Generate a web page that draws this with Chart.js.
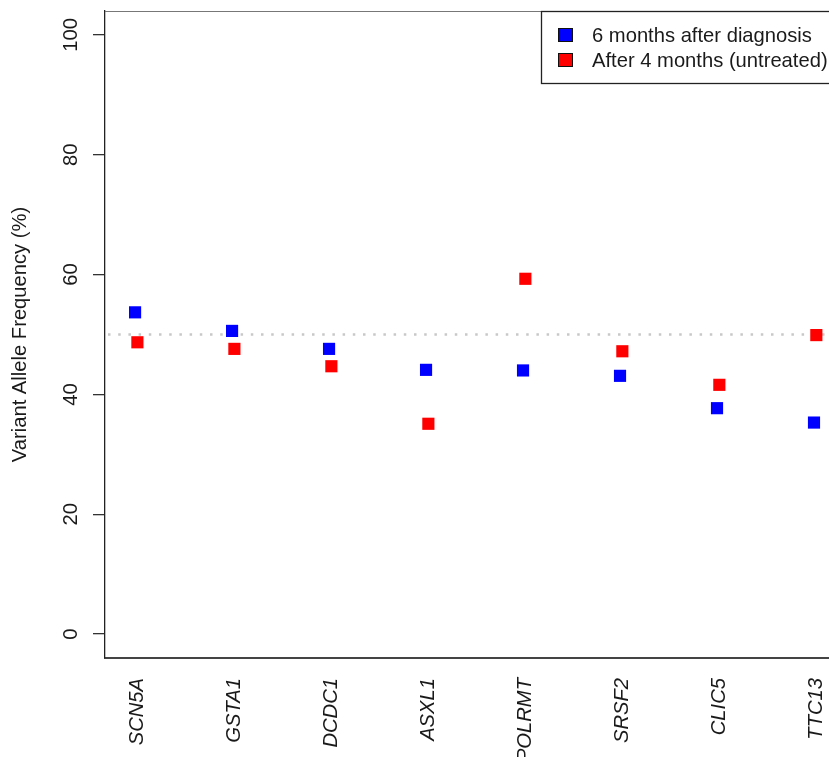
<!DOCTYPE html>
<html>
<head>
<meta charset="utf-8">
<title>Variant allele frequency</title>
<script src="https://cdn.jsdelivr.net/npm/chart.js@4"></script>
<style>
  html, body { margin: 0; padding: 0; background: #fff; overflow: hidden; }
  #wrap { width: 960px; height: 757px; }
</style>
</head>
<body>
<div id="wrap"><canvas id="vafchart" width="960" height="757"></canvas></div>
<script>
// genes along the x axis
const genes = ['SCN5A', 'GSTA1', 'DCDC1', 'ASXL1', 'POLRMT', 'SRSF2', 'CLIC5', 'TTC13'];

// VAF (%) per timepoint
const sixMonths = [53.7, 50.6, 47.6, 44.1, 44.0, 43.1, 37.7, 35.3];
const fourMonthsUntreated = [48.7, 47.6, 44.7, 35.1, 59.3, 47.2, 41.6, 49.9];

const seriesNames = ['6 months after diagnosis', 'After 4 months (untreated)'];
const seriesColors = ['#0000ff', '#ff0000'];

const yTicks = [0, 20, 40, 60, 80, 100];
const refLine = 50;
const redShift = 0.024;   // small nudge so the pairs don't overlap

const fontFam = '"Liberation Sans", Arial, Helvetica, sans-serif';
const fs = 20.2;

function pts(vals, shift) {
    const out = [];
    for (let i = 0; i < vals.length; i++) {
        out.push({ x: i + 1 + shift, y: vals[i] });
    }
    return out;
}

// dotted 50% line, drawn under the points
const refLinePlugin = {
    id: 'refLine',
    beforeDatasetsDraw(chart) {
        const ctx = chart.ctx, a = chart.chartArea;
        const y = chart.scales.y.getPixelForValue(refLine);
        ctx.save();
        ctx.strokeStyle = '#c8c8c8';
        ctx.lineWidth = 2.5;
        ctx.setLineDash([2.5, 7.7]);
        ctx.beginPath();
        ctx.moveTo(a.left + 3, y);
        ctx.lineTo(a.right, y);
        ctx.stroke();
        ctx.restore();
    }
};

// box top edge, rotated y labels, legend
const extrasPlugin = {
    id: 'extras',
    afterDraw(chart) {
        const ctx = chart.ctx, a = chart.chartArea;
        const ys = chart.scales.y;
        ctx.save();

        ctx.strokeStyle = '#777';
        ctx.lineWidth = 1;
        ctx.beginPath();
        ctx.moveTo(a.left, a.top + 0.5);
        ctx.lineTo(a.right, a.top + 0.5);
        ctx.stroke();

        ctx.fillStyle = '#1a1a1a';
        ctx.font = fs + 'px ' + fontFam;
        ctx.textAlign = 'center';
        ctx.textBaseline = 'middle';
        yTicks.forEach(v => {
            ctx.save();
            ctx.translate(71, ys.getPixelForValue(v));
            ctx.rotate(-Math.PI / 2);
            ctx.fillText(String(v), 0, 0);
            ctx.restore();
        });

        // legend
        const lx = 541, ly = a.top, lh = 72;
        ctx.fillStyle = '#fff';
        ctx.fillRect(lx, ly, a.right - lx, lh);
        ctx.strokeStyle = '#222';
        ctx.lineWidth = 1.3;
        ctx.strokeRect(lx + 0.5, ly + 0.5, a.right - lx, lh);
        ctx.textAlign = 'left';
        seriesNames.forEach((name, i) => {
            const cy = ly + 24 + i * 25;
            ctx.fillStyle = seriesColors[i];
            ctx.fillRect(558, cy - 7, 15, 14);
            ctx.strokeStyle = '#111';
            ctx.lineWidth = 1;
            ctx.strokeRect(558.5, cy - 6.5, 14, 13);
            ctx.fillStyle = '#1a1a1a';
            ctx.fillText(name, 592, cy + 1);
        });
        ctx.restore();
    }
};

new Chart(document.getElementById('vafchart'), {
    type: 'scatter',
    data: {
        datasets: [{
            label: seriesNames[0],
            data: pts(sixMonths, 0),
            backgroundColor: seriesColors[0],
            borderWidth: 0,
            pointStyle: 'rect',
            pointRadius: 8.6
        }, {
            label: seriesNames[1],
            data: pts(fourMonthsUntreated, redShift),
            backgroundColor: seriesColors[1],
            borderWidth: 0,
            pointStyle: 'rect',
            pointRadius: 8.6
        }]
    },
    options: {
        responsive: false,
        animation: false,
        layout: { padding: { top: 11, right: 17, left: 0, bottom: 0 } },
        plugins: {
            legend: { display: false },
            tooltip: { enabled: false }
        },
        scales: {
            x: {
                type: 'linear',
                min: 0.69,
                max: 9.33,
                afterBuildTicks: s => { s.ticks = genes.map((g, i) => ({ value: i + 1 })); },
                afterFit: s => { s.height = 99; },
                grid: { display: false },
                border: { display: true, color: '#444', width: 2 },
                ticks: {
                    autoSkip: false,
                    minRotation: 90,
                    maxRotation: 90,
                    padding: 12,
                    labelOffset: 2,
                    color: '#1a1a1a',
                    font: { family: fontFam, size: fs, style: 'italic' },
                    callback: v => genes[v - 1]
                }
            },
            y: {
                min: -4,
                max: 104,
                afterBuildTicks: s => { s.ticks = yTicks.map(v => ({ value: v })); },
                afterFit: s => { s.width = 105; },
                grid: {
                    display: true,
                    drawOnChartArea: false,
                    drawTicks: true,
                    tickLength: 12,
                    color: '#333',
                    lineWidth: 1.3
                },
                border: { display: true, color: '#222', width: 1.3 },
                ticks: { display: false },
                title: {
                    display: true,
                    text: 'Variant Allele Frequency (%)',
                    color: '#1a1a1a',
                    font: { family: fontFam, size: fs },
                    padding: { top: 8, bottom: 0 }
                }
            }
        }
    },
    plugins: [refLinePlugin, extrasPlugin]
});
</script>
</body>
</html>
